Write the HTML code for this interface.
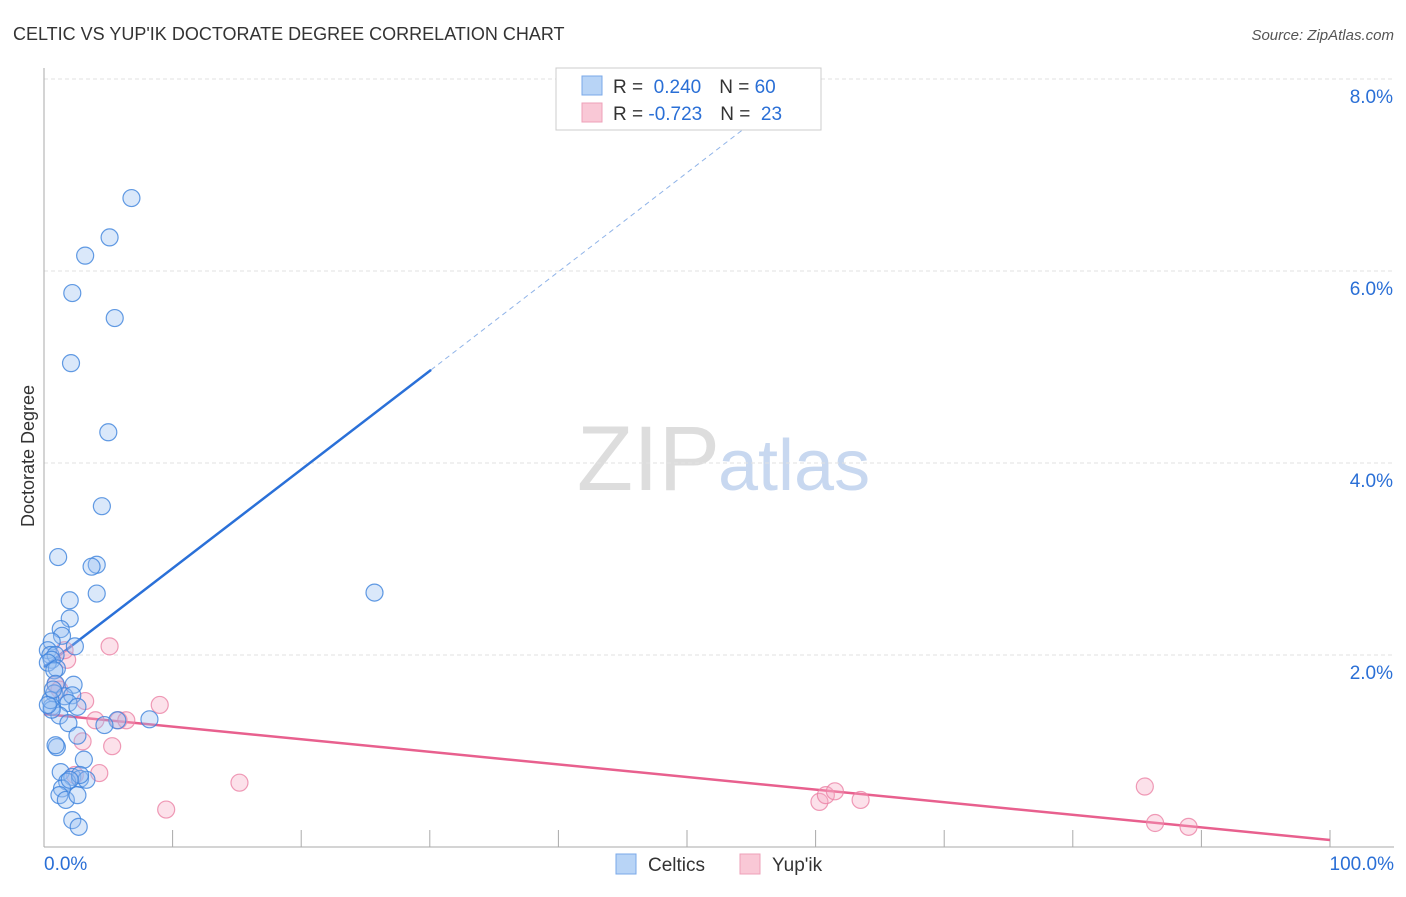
<!DOCTYPE html>
<html><head><meta charset="utf-8"><style>
body{margin:0;background:#fff;font-family:"Liberation Sans",sans-serif;}
svg text{font-family:"Liberation Sans",sans-serif;}
</style></head><body>
<svg id="c" width="1406" height="892">
<text x="13" y="40" font-size="18" fill="#333">CELTIC VS YUP'IK DOCTORATE DEGREE CORRELATION CHART</text>
<text x="1394" y="40" font-size="15" fill="#555" font-style="italic" text-anchor="end">Source: ZipAtlas.com</text>
<text x="720" y="490" font-size="92" fill="#ddd" font-family="Liberation Serif" text-anchor="end">ZIP</text>
<text x="718" y="490" font-size="72" fill="#c8d8f0">atlas</text>
<text x="34" y="456" font-size="18" fill="#333" transform="rotate(-90 34 456)" text-anchor="middle">Doctorate Degree</text>
<g id="grid"></g><g id="axes"></g><g id="lines"></g><g id="pts"></g>
<g>
<rect x="556" y="68" width="265" height="62" fill="#fff" stroke="#ccc"/>
<rect x="582" y="76" width="20" height="19" fill="#b8d4f6" stroke="#7aa8e8"/>
<rect x="582" y="103" width="20" height="19" fill="#f9c8d6" stroke="#eea0b8"/>
<text x="613" y="93" font-size="19" fill="#333">R = <tspan fill="#2a6fd6">&#160;0.240</tspan><tspan dx="18">N = </tspan><tspan fill="#2a6fd6">60</tspan></text>
<text x="613" y="120" font-size="19" fill="#333">R = <tspan fill="#2a6fd6">-0.723</tspan><tspan dx="18">N = </tspan><tspan fill="#2a6fd6">&#160;23</tspan></text>
</g>
<g>
<rect x="616" y="854" width="20" height="20" fill="#b8d4f6" stroke="#7aa8e8"/>
<text x="648" y="871" font-size="19" fill="#333">Celtics</text>
<rect x="740" y="854" width="20" height="20" fill="#f9c8d6" stroke="#eea0b8"/>
<text x="772" y="871" font-size="19" fill="#333">Yup'ik</text>
</g>
</svg>
<script>
const yTicks=[2,4,6,8];
const yTickLabels=["2.0%","4.0%","6.0%","8.0%"];
const xTickCount=10;
const celticsX=[6.8,5.1,3.2,2.2,5.5,2.1,5.0,4.5,1.1,4.1,3.7,2.0,4.1,25.7,2.0,1.3,1.4,0.6,2.4,0.3,0.5,0.9,0.6,0.3,1.0,0.8,0.9,2.3,0.8,1.6,2.2,1.9,0.6,2.6,1.2,8.2,5.7,4.7,1.9,2.6,1.0,0.9,3.1,1.3,2.2,2.8,3.3,1.8,1.4,1.2,1.7,2.6,2.2,2.7,0.6,0.5,0.3,0.7,2.8,2.0];
const celticsY=[6.76,6.35,6.16,5.77,5.51,5.04,4.32,3.55,3.02,2.94,2.92,2.57,2.64,2.65,2.38,2.27,2.20,2.14,2.09,2.05,2.00,2.00,1.95,1.92,1.86,1.84,1.70,1.69,1.60,1.57,1.58,1.50,1.46,1.46,1.37,1.33,1.32,1.27,1.29,1.16,1.04,1.06,0.91,0.78,0.73,0.71,0.70,0.68,0.61,0.54,0.49,0.54,0.28,0.21,1.43,1.53,1.48,1.64,0.75,0.70];
const yupikX=[5.1,1.8,1.6,0.9,1.2,3.2,9.0,4.0,5.8,6.4,3.0,5.3,4.3,2.4,15.2,9.5,60.3,60.8,61.5,63.5,85.6,86.4,89.0];
const yupikY=[2.09,1.95,2.05,1.69,1.64,1.52,1.48,1.32,1.32,1.32,1.10,1.05,0.77,0.75,0.67,0.39,0.47,0.54,0.58,0.49,0.63,0.25,0.21];
const blueTrend=[[0,1.875],[30.1,4.97],[58,7.85]];
const pinkTrend=[[0,1.385],[100,0.073]];
const X=v=>44+v*12.86, Y=v=>847-v*96;
const NS="http://www.w3.org/2000/svg";
function mk(t,a,p){const e=document.createElementNS(NS,t);for(const k in a)e.setAttribute(k,a[k]);p.appendChild(e);return e;}
const grid=document.getElementById('grid'),axes=document.getElementById('axes'),lines=document.getElementById('lines'),pts=document.getElementById('pts');
yTicks.forEach((t,i)=>{
const l=mk('line',{x1:44,x2:1394,y1:Y(t),y2:Y(t),stroke:'#e2e2e2','stroke-dasharray':'4,3'},grid);


const tx=mk('text',{x:1393,y:Y(t)+24,'font-size':19,fill:'#2a6fd6','text-anchor':'end'},grid);
tx.textContent=yTickLabels[i];


});
const ya=mk('line',{x1:44,x2:44,y1:68,y2:847,stroke:'#aaa'},axes);


const xa=mk('line',{x1:44,x2:1394,y1:847,y2:847,stroke:'#aaa'},axes);


for(let i=1;i<=xTickCount;i++){const x=X(i*100/xTickCount);
const t=mk('line',{x1:x,x2:x,y1:830,y2:847,stroke:'#aaa'},axes);

}
const x0=mk('text',{x:44,y:870,'font-size':19,fill:'#2a6fd6'},axes);x0.textContent='0.0%';


const x1=mk('text',{x:1394,y:870,'font-size':19,fill:'#2a6fd6','text-anchor':'end'},axes);x1.textContent='100.0%';


const b1=mk('line',{x1:X(blueTrend[0][0]),y1:Y(blueTrend[0][1]),x2:X(blueTrend[1][0]),y2:Y(blueTrend[1][1]),stroke:'#2a70d8','stroke-width':2.5},lines);


const b2=mk('line',{x1:X(blueTrend[1][0]),y1:Y(blueTrend[1][1]),x2:X(blueTrend[2][0]),y2:Y(blueTrend[2][1]),stroke:'#8fb3e8','stroke-width':1,'stroke-dasharray':'5,4'},lines);


const p1=mk('line',{x1:X(pinkTrend[0][0]),y1:Y(pinkTrend[0][1]),x2:X(pinkTrend[1][0]),y2:Y(pinkTrend[1][1]),stroke:'#e8608e','stroke-width':2.5},lines);


yupikX.forEach((v,i)=>{const c=mk('circle',{cx:X(v),cy:Y(yupikY[i]),r:8.5,fill:'rgba(246,170,195,0.35)',stroke:'rgba(235,130,165,0.8)','stroke-width':1.2},pts);

});
celticsX.forEach((v,i)=>{const c=mk('circle',{cx:X(v),cy:Y(celticsY[i]),r:8.5,fill:'rgba(150,190,240,0.35)',stroke:'rgba(60,130,220,0.8)','stroke-width':1.2},pts);

});
</script>
</body></html>
